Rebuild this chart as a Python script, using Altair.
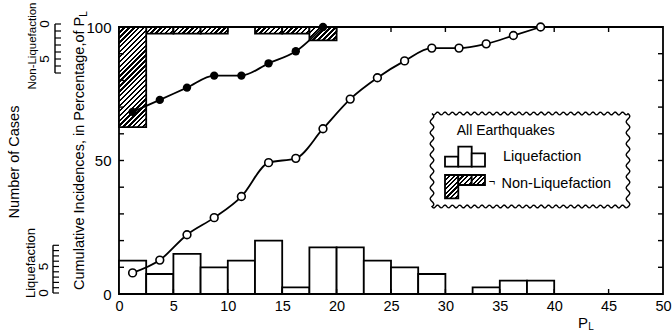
import altair as alt
import numpy as np
import pandas as pd

# ---------------- data ----------------
bin_start = [0, 2.5, 5, 7.5, 10, 12.5, 15, 17.5, 20, 22.5, 25, 27.5, 30, 32.5, 35, 37.5]
liq_cases = [5, 3, 6, 4, 5, 8, 1, 7, 7, 5, 4, 3, 0, 1, 2, 2]
nonliq_cases = [15, 1, 1, 1, 0, 1, 1, 2, 0, 0, 0, 0, 0, 0, 0, 0]
bin_mid = [1.25, 3.75, 6.25, 8.75, 11.25, 13.75, 16.25, 18.75, 21.25, 23.75,
           26.25, 28.75, 31.25, 33.75, 36.25, 38.75]
liq_cum = [7.9, 12.7, 22.2, 28.6, 36.5, 49.2, 50.8, 61.9, 73.0, 81.0,
           87.3, 92.1, 92.1, 93.7, 96.8, 100.0]
nonliq_mid = [1.25, 3.75, 6.25, 8.75, 11.25, 13.75, 16.25, 18.75]
nonliq_cum = [68.2, 72.7, 77.3, 81.8, 81.8, 86.4, 90.9, 100.0]
x_labels = [0, 5, 10, 15, 20, 25, 30, 35, 40, 45, 50]
x_inner_ticks = [5, 10, 15, 20, 25, 30, 35, 40, 45]
y_labels = [0, 50, 100]
y_inner_ticks = [10, 20, 30, 40, 50, 60, 70, 80, 90]
nonliq_ruler = [0, 1, 2, 3, 4, 5, 6, 7]
liq_ruler = [0, 1, 2, 3, 4, 5, 6, 7, 8, 9]

BIN = 2.5
PCT_PER_CASE = 2.5
W, H = 544, 267
FONT = "Liberation Sans"
LW = 1.8

xs = alt.Scale(domain=[0, 50], nice=False, zero=False)
ys = alt.Scale(domain=[0, 100], nice=False, zero=False)


def hatch(w, h, period=3.4, frac=0.48):
    L = (w + h) / np.sqrt(2)
    n = max(1, int(round(L / period)))
    k = (w + h) / (w * w + h * h)
    stops = []
    for i in range(n):
        a, b, c = i / n, (i + frac) / n, (i + 1) / n
        stops += [{"offset": a, "color": "black"}, {"offset": b, "color": "black"},
                  {"offset": b, "color": "white"}, {"offset": c, "color": "white"}]
    return {"gradient": "linear", "x1": 0, "y1": 0, "x2": w * k, "y2": h * k, "stops": stops}


one = pd.DataFrame({"a": [0]})

# liquefaction bars
liq_df = pd.DataFrame({"x": bin_start, "c": liq_cases})
liq_df = liq_df[liq_df.c > 0].copy()
liq_df["x2"] = liq_df.x + BIN
liq_df["y"] = 0.0
liq_df["y2"] = liq_df.c * PCT_PER_CASE
liq_bars = alt.Chart(liq_df).mark_rect(fill="white", stroke="black", strokeWidth=LW).encode(
    x=alt.X("x:Q", scale=xs, axis=alt.Axis(values=x_labels, title=None, grid=False, ticks=False,
                                           tickSize=0, domain=False, labelPadding=5, labelFontSize=14.5,
                                           labelFont=FONT, labelColor="black", labelFlush=False)),
    x2="x2:Q",
    y=alt.Y("y:Q", scale=ys, axis=alt.Axis(values=y_labels, title=None, grid=False, ticks=False,
                                           tickSize=0, domain=False, labelPadding=8, labelFontSize=15,
                                           labelFont=FONT, labelColor="black", labelFlush=False)),
    y2="y2:Q",
)

# non-liquefaction hatched bars (hanging from 100 %)
nl_df = pd.DataFrame({"x": bin_start, "c": nonliq_cases})
nl_df = nl_df[nl_df.c > 0].copy()
nl_df["x2"] = nl_df.x + BIN
nl_df["y"] = 100.0
nl_df["y2"] = 100.0 - nl_df.c * PCT_PER_CASE
nl_layers = []
for c, g in nl_df.groupby("c"):
    w = BIN * W / 50.0
    h = c * PCT_PER_CASE * H / 100.0
    nl_layers.append(
        alt.Chart(g).mark_rect(fill=hatch(w, h), stroke="black", strokeWidth=LW).encode(
            x=alt.X("x:Q", scale=xs), x2="x2:Q", y=alt.Y("y:Q", scale=ys), y2="y2:Q"))

# inner ticks
bt = alt.Chart(pd.DataFrame({"v": x_inner_ticks}))
tick_bottom = bt.mark_rule(color="black", strokeWidth=1.4).encode(
    x=alt.X("v:Q", scale=xs), y=alt.value(H), y2=alt.value(H - 5))
tick_top = bt.mark_rule(color="black", strokeWidth=1.4).encode(
    x=alt.X("v:Q", scale=xs), y=alt.value(0), y2=alt.value(5))
lt = alt.Chart(pd.DataFrame({"v": y_inner_ticks}))
tick_left = lt.mark_rule(color="black", strokeWidth=1.4).encode(
    y=alt.Y("v:Q", scale=ys), x=alt.value(0), x2=alt.value(5))
tick_right = lt.mark_rule(color="black", strokeWidth=1.4).encode(
    y=alt.Y("v:Q", scale=ys), x=alt.value(W), x2=alt.value(W - 5))

# cumulative curves
lc = pd.DataFrame({"x": bin_mid, "y": liq_cum})
nc = pd.DataFrame({"x": nonliq_mid, "y": nonliq_cum})
liq_line = alt.Chart(lc).mark_line(color="black", strokeWidth=LW, interpolate="monotone").encode(
    x=alt.X("x:Q", scale=xs), y=alt.Y("y:Q", scale=ys))
nl_line = alt.Chart(nc).mark_line(color="black", strokeWidth=LW, interpolate="monotone").encode(
    x=alt.X("x:Q", scale=xs), y=alt.Y("y:Q", scale=ys))
liq_pts = alt.Chart(lc).mark_point(shape="circle", size=60, filled=True, fill="white",
                                   stroke="black", strokeWidth=1.6, opacity=1).encode(
    x=alt.X("x:Q", scale=xs), y=alt.Y("y:Q", scale=ys))
nl_pts = alt.Chart(nc).mark_circle(size=70, color="black", opacity=1).encode(
    x=alt.X("x:Q", scale=xs), y=alt.Y("y:Q", scale=ys))


# ---------------- legend ----------------
def wavy_path(hw, hh, amp=1.4, per=7.4, amp_s=1.8, per_s=11.0, r=50.0):
    pts = []
    n = int(2 * hw)
    for i in range(n + 1):
        x = -hw + 2 * hw * i / n
        pts.append((x, -hh + amp * np.sin(2 * np.pi * (x + hw) / per)))
    m = int(2 * hh)
    for i in range(1, m + 1):
        y = -hh + 2 * hh * i / m
        pts.append((hw + amp_s * np.sin(2 * np.pi * (y + hh) / per_s), y))
    for i in range(1, n + 1):
        x = hw - 2 * hw * i / n
        pts.append((x, hh + amp * np.sin(2 * np.pi * (x + hw) / per)))
    for i in range(1, m):
        y = hh - 2 * hh * i / m
        pts.append((-hw + amp_s * np.sin(2 * np.pi * (y + hh) / per_s), y))
    s = "M" + " L".join(f"{p[0] / r:.4f},{p[1] / r:.4f}" for p in pts) + " Z"
    return s


legend_box = alt.Chart(one).mark_point(shape=wavy_path(98, 46.5), size=10000, filled=True,
                                       fill="white", stroke="black", strokeWidth=1.4,
                                       opacity=1).encode(x=alt.value(411), y=alt.value(133))

open_icon = pd.DataFrame({"x": [326, 339.3, 352.7], "x2": [339.3, 352.7, 366],
                          "y": [129.7, 119.7, 126.3], "y2": [139.7, 139.7, 139.7]})
open_icon_l = alt.Chart(open_icon).mark_rect(fill="white", stroke="black", strokeWidth=LW).encode(
    x=alt.X("x:Q", scale=None), x2="x2:Q", y=alt.Y("y:Q", scale=None), y2="y2:Q")

hatch_icon = [(326, 339.3, 148, 171.3), (339.3, 352.7, 148, 158), (352.7, 366, 148, 158)]
hatch_icon_l = []
for (a, b, c, d) in hatch_icon:
    hatch_icon_l.append(
        alt.Chart(one).mark_rect(fill=hatch(b - a, d - c), stroke="black", strokeWidth=LW).encode(
            x=alt.value(a), x2=alt.value(b), y=alt.value(c), y2=alt.value(d)))


def txt(s, x, y, size=14, angle=0, align="center", baseline="middle", font=FONT):
    return alt.Chart(one).mark_text(text=s, fontSize=size, angle=angle, align=align,
                                    baseline=baseline, font=font, color="black").encode(
        x=alt.value(x), y=alt.value(y))


texts = [
    txt("All Earthquakes", 337.7, 103.5, size=14, align="left"),
    txt("Liquefaction", 384, 130.3, size=14.5, align="left"),
    txt("Non-Liquefaction", 382.5, 156.5, size=14.5, align="left"),
    txt("¬", 373, 155, size=11),
    txt("P", 464, 296, size=15),
    txt("L", 472, 300, size=10),
    txt("Number  of  Cases", -104, 135, size=14.5, angle=270),
    txt("Non-Liquefaction", -86, 19, size=11.5, angle=270),
    txt("Liquefaction", -88, 236, size=13, angle=270),
    txt("Cumulative  Incidences, in Percentage,of P", -39, 263, size=14.5, angle=270, align="left"),
    txt("L", -35, -13, size=10, angle=270),
]

# left-side rulers
nr = pd.DataFrame({"i": nonliq_ruler})
nr["y"] = -3 + nr.i * 7.0
nr["x"] = -64.0
nr["x2"] = -58.0
lr = pd.DataFrame({"i": liq_ruler})
lr["y"] = 266 - lr.i * 5.3
lr["x"] = -66.0
lr["x2"] = -60.0
rulers = []
for df, lab_x in [(nr, -74), (lr, -75)]:
    rulers.append(alt.Chart(df).mark_rule(color="black", strokeWidth=1.2).encode(
        x=alt.X("x:Q", scale=None), x2="x2:Q", y=alt.Y("y:Q", scale=None)))
    rulers.append(alt.Chart(df).mark_rule(color="black", strokeWidth=1.4).encode(
        x=alt.X("x:Q", scale=None), y=alt.Y("min(y):Q", scale=None), y2="max(y):Q"))
    lab = df[df.i.isin([0, 5])]
    rulers.append(alt.Chart(lab).mark_text(fontSize=13.5, angle=270, font=FONT, color="black").encode(
        x=alt.value(lab_x), y=alt.Y("y:Q", scale=None), text="i:Q"))

layers = [liq_bars] + nl_layers + [tick_bottom, tick_top, tick_left, tick_right,
                                   liq_line, nl_line, liq_pts, nl_pts,
                                   legend_box, open_icon_l] + hatch_icon_l + texts + rulers

chart = alt.layer(*layers).properties(
    width=W, height=H,
    autosize=alt.AutoSizeParams(type="none"),
    padding={"left": 119, "top": 27, "right": 9, "bottom": 37},
    background="white",
).configure_view(stroke="black", strokeWidth=1.8).resolve_scale(x="shared", y="shared")

chart.save("out.html", embed_options={"renderer": "svg", "actions": False})
